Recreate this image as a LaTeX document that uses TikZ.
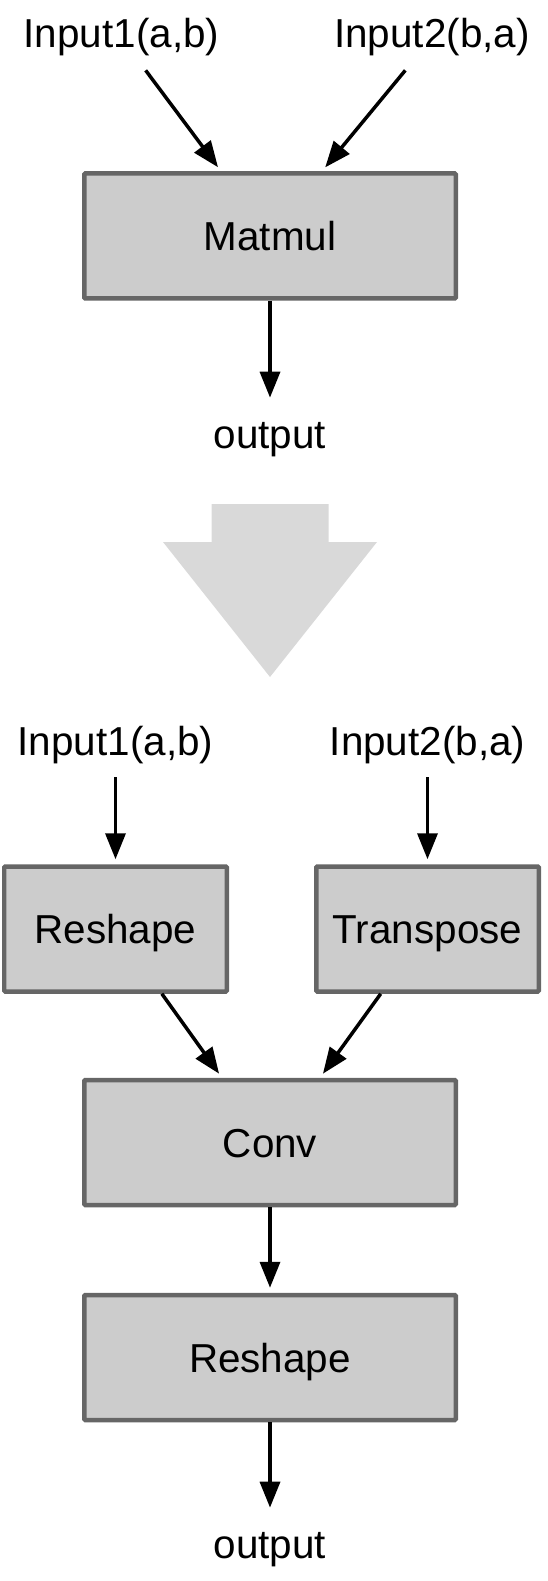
\documentclass[tikz,border=0pt]{standalone}
\usepackage{fontspec}
\setmainfont{Liberation Sans}
\usepackage{tikz}
\usetikzlibrary{arrows.meta}
\usetikzlibrary{calc}

\begin{document}
\begin{tikzpicture}[shorten >=0.1cm, auto,
        node_style/.style={rectangle,draw=black!60,fill=black!20,line width=0.09cm,rounded corners=0.02cm,minimum height=2.5cm,font=\fontsize{23pt}{28pt}\selectfont,text height=0.58cm,text depth=0cm},
        wide_node_style/.style={node_style,minimum width=7.43cm},
        small_node_style/.style={node_style,minimum width=4.45cm},
        label_style/.style={anchor=base,inner xsep=0.1cm,inner ysep=0.24cm,text height=0.6cm,text depth=0.2cm,font=\fontsize{23pt}{28pt}\selectfont},
        output_style/.style={label_style,inner ysep=0.3cm},
        edge_style/.style={draw=black,line width=0.07cm,-{Triangle[length=0.52cm,width=0.4cm]}}]

        \useasboundingbox (0,0) rectangle (10.94,-31.62);

        \node [label_style](in1) at (2.43,-0.96) {Input1(a,b)};

        \node [label_style](in2) at (8.64,-0.96) {Input2(b,a)};

        \node [wide_node_style](matmul) at (5.40,-4.72) {Matmul};

        \node [output_style](out1) at (5.40,-8.96) {output};

        \fill [black!15] (4.23,-10.08) -- (6.57,-10.08) -- (6.57,-10.84) -- (7.54,-10.84)
            -- (5.40,-13.54) -- (3.26,-10.84) -- (4.23,-10.84) -- cycle;

        \node [label_style](in3) at (2.31,-15.10) {Input1(a,b)};

        \node [label_style](in4) at (8.55,-15.10) {Input2(b,a)};

        \node [small_node_style](reshape1) at (2.31,-18.58) {Reshape};

        \node [small_node_style](transpose) at (8.55,-18.58) {Transpose};

        \node [wide_node_style](conv) at (5.40,-22.85) {Conv};

        \node [wide_node_style](reshape2) at (5.40,-27.15) {Reshape};

        \node [output_style](out2) at (5.40,-31.16) {output};

        \draw [edge_style] (in1) edge ($(matmul.north)+(-0.98,0)$);

        \draw [edge_style] (in2) edge ($(matmul.north)+(1.04,0)$);

        \draw [edge_style] (matmul) edge (out1);

        \draw [edge_style] (in3) edge (reshape1);

        \draw [edge_style] (in4) edge (transpose);

        \draw [edge_style] (reshape1) edge ($(conv.north)+(-0.96,0)$);

        \draw [edge_style] (transpose) edge ($(conv.north)+(1.0,0)$);

        \draw [edge_style] (conv) edge (reshape2);

        \draw [edge_style] (reshape2) edge (out2);

        \end{tikzpicture}
\end{document}
